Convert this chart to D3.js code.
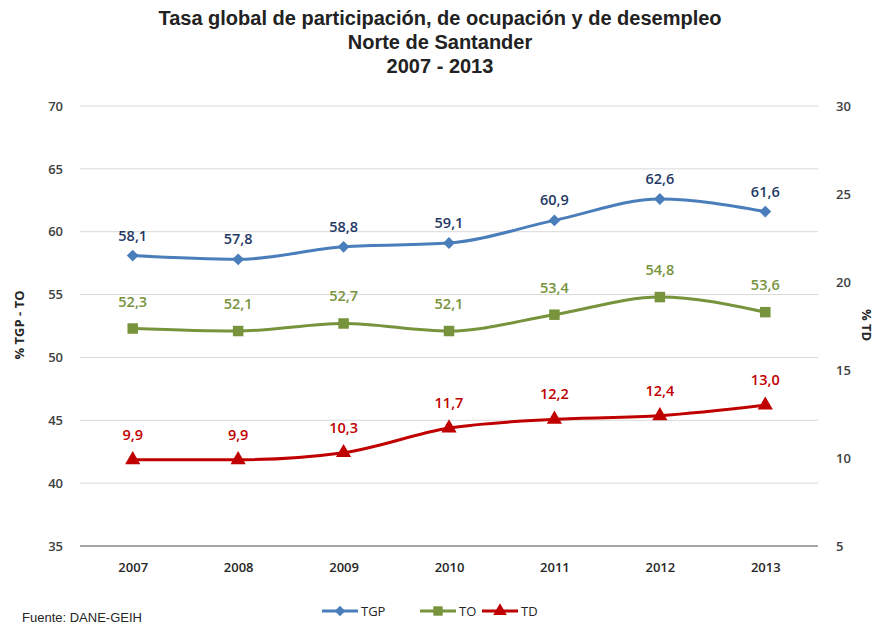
<!DOCTYPE html>
<html>
<head>
<meta charset="utf-8">
<script src="https://cdn.jsdelivr.net/npm/d3@7"></script>
<style>
  body { margin: 0; background: #fff; }
  svg text { font-family: "Open Sans", "Liberation Sans", sans-serif; }
</style>
</head>
<body>
<div id="vis-container"></div>
<script>
// chart data
let years = ["2007", "2008", "2009", "2010", "2011", "2012", "2013"];
let tgp = [58.1, 57.8, 58.8, 59.1, 60.9, 62.6, 61.6];
let to = [52.3, 52.1, 52.7, 52.1, 53.4, 54.8, 53.6];
let td = [9.9, 9.9, 10.3, 11.7, 12.2, 12.4, 13.0];
let leftTicks = [35, 40, 45, 50, 55, 60, 65, 70];
let rightTicks = [5, 10, 15, 20, 25, 30];
let titleLines = ["Tasa global de participación, de ocupación y de desempleo", "Norte de Santander", "2007 - 2013"];

let width = 879;
let height = 626;
let margin = { left: 80, right: 61, top: 106, bottom: 80 };

let svg = d3.select("#vis-container")
  .append("svg")
  .attr("width", width)
  .attr("height", height);

let x = d3.scalePoint()
  .domain(years)
  .range([margin.left, width - margin.right])
  .padding(0.5);

let yLeft = d3.scaleLinear().domain([35, 70]).range([height - margin.bottom, margin.top]);
let yRight = d3.scaleLinear().domain([5, 30]).range([height - margin.bottom, margin.top]);

// title
svg.append("g").selectAll("text")
  .data(titleLines)
  .enter()
  .append("text")
  .attr("x", 440)
  .attr("y", (d, i) => 25 + i * 24)
  .attr("text-anchor", "middle")
  .style("font-family", "'Liberation Sans', Arial, sans-serif")
  .style("font-weight", "bold")
  .style("font-size", "20px")
  .style("fill", "#222")
  .text(d => d);

// gridlines
svg.append("g").selectAll("line")
  .data(leftTicks)
  .enter()
  .append("line")
  .attr("x1", margin.left)
  .attr("x2", width - margin.right)
  .attr("y1", d => yLeft(d))
  .attr("y2", d => yLeft(d))
  .style("stroke", d => d === 35 ? "#a6a6a6" : "#d9d9d9")
  .style("stroke-width", d => d === 35 ? 2 : 1);

// left axis
let leftAxis = svg.append("g")
  .attr("transform", `translate(${margin.left - 17},0)`)
  .call(d3.axisLeft(yLeft).tickValues(leftTicks).tickSize(0).tickPadding(0));
leftAxis.select(".domain").remove();
leftAxis.selectAll("text").style("font-size", "13px").style("fill", "#404040").style("font-weight", "600");

// right axis
let rightAxis = svg.append("g")
  .attr("transform", `translate(${width - margin.right + 18},0)`)
  .call(d3.axisRight(yRight).tickValues(rightTicks).tickSize(0).tickPadding(0));
rightAxis.select(".domain").remove();
rightAxis.selectAll("text").style("font-size", "13px").style("fill", "#404040").style("font-weight", "600");

// bottom axis
let bottomAxis = svg.append("g")
  .attr("transform", `translate(0,${height - margin.bottom})`)
  .call(d3.axisBottom(x).tickSize(0).tickPadding(17));
bottomAxis.select(".domain").remove();
bottomAxis.selectAll("text").style("font-size", "13px").style("fill", "#262626").style("font-weight", "600");

// axis titles
svg.append("text")
  .attr("transform", "translate(24,325) rotate(-90)")
  .attr("text-anchor", "middle")
  .style("font-size", "13px")
  .style("font-weight", "bold")
  .style("fill", "#262626")
  .text("% TGP - TO");

svg.append("text")
  .attr("transform", "translate(862,325) rotate(90)")
  .attr("text-anchor", "middle")
  .style("font-size", "13px")
  .style("font-weight", "bold")
  .style("fill", "#262626")
  .text("% TD");

let series = [
  { name: "TGP", values: tgp, y: yLeft, color: "#4a7ebb", labelColor: "#1f3864", symbol: d3.symbolSquare, rot: 45, size: 70, dy: -15 },
  { name: "TO", values: to, y: yLeft, color: "#77933c", labelColor: "#77933c", symbol: d3.symbolSquare, rot: 0, size: 110, dy: -22 },
  { name: "TD", values: td, y: yRight, color: "#c00000", labelColor: "#c00000", symbol: d3.symbolTriangle, rot: 0, size: 100, dy: -20 }
];

let line = d3.line().curve(d3.curveMonotoneX);

series.forEach(function (s) {
  let pts = s.values.map((v, i) => [x(years[i]), s.y(v)]);
  svg.append("path")
    .attr("d", line(pts))
    .style("fill", "none")
    .style("stroke", s.color)
    .style("stroke-width", 3);

  svg.append("g").selectAll("path")
    .data(pts)
    .enter()
    .append("path")
    .attr("transform", d => `translate(${d[0]},${d[1]}) rotate(${s.rot})`)
    .attr("d", d3.symbol().type(s.symbol).size(s.size))
    .style("fill", s.color);

  svg.append("g").selectAll("text")
    .data(s.values)
    .enter()
    .append("text")
    .attr("x", (d, i) => x(years[i]))
    .attr("y", (d, i) => s.y(d) + s.dy)
    .attr("text-anchor", "middle")
    .style("font-size", "14.5px")
    .style("font-weight", "600")
    .style("fill", s.labelColor)
    .text(d => d.toFixed(1).replace(".", ","));
});

// legend
let legendX = [322, 420, 482];
series.forEach(function (s, i) {
  let lx = legendX[i];
  let g = svg.append("g").attr("transform", `translate(${lx},611)`);
  g.append("line").attr("x1", 0).attr("x2", 36).style("stroke", s.color).style("stroke-width", 3);
  g.append("path").attr("transform", `translate(18,0) rotate(${s.rot})`)
    .attr("d", d3.symbol().type(s.symbol).size(s.size * 0.8))
    .style("fill", s.color);
  g.append("text").attr("x", 39).attr("y", 5)
    .style("font-size", "13px").style("fill", "#262626")
    .text(s.name);
});

svg.append("text")
  .attr("x", 22)
  .attr("y", 622)
  .style("font-family", "'Liberation Sans', Arial, sans-serif")
  .style("font-size", "13px")
  .style("fill", "#262626")
  .text("Fuente: DANE-GEIH");
</script>
</body>
</html>
